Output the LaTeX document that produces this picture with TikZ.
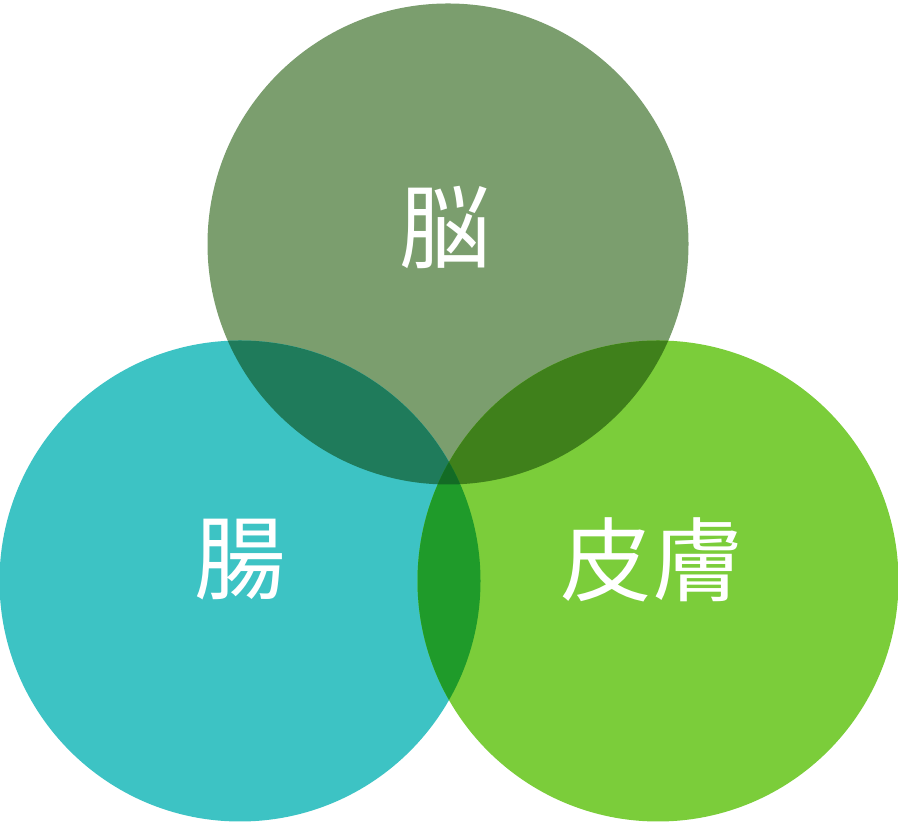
\documentclass[tikz,border=0pt]{standalone}
\usepackage{fontspec}
\newfontfamily\cjk{Noto Sans CJK JP}
\definecolor{brain}{HTML}{7B9E6E}
\definecolor{gut}{HTML}{3DC3C4}
\definecolor{skin}{HTML}{7BCD3A}
\definecolor{braingut}{HTML}{1F7B5B}
\definecolor{brainskin}{HTML}{3F801B}
\definecolor{gutskin}{HTML}{1F9B2A}
\definecolor{allthree}{HTML}{136B25}
\usetikzlibrary{calc, positioning}

\begin{document}
\begin{tikzpicture}[lbl/.style = {text = white, font = \cjk\fontsize{26pt}{26pt}\selectfont, inner sep = 0pt}]
\useasboundingbox (0,0) rectangle (8.98,8.26);
\coordinate (B) at (4.48,5.82);
\coordinate (G) at (2.40,2.45);
\coordinate (S) at (6.58,2.45);
\def\rad{2.405}
\fill[brain] (B) circle (\rad);
\fill[gut] (G) circle (\rad);
\fill[skin] (S) circle (\rad);
\begin{scope}
\clip (B) circle (\rad);
\fill[braingut] (G) circle (\rad);
\fill[brainskin] (S) circle (\rad);
\end{scope}
\begin{scope}
\clip (G) circle (\rad);
\fill[gutskin] (S) circle (\rad);
\clip (S) circle (\rad);
\fill[allthree] (B) circle (\rad);
\end{scope}
\node[lbl] (brainlbl) at (4.45,5.98) {脳};
\node[lbl] (gutlbl) at (2.40,2.66) {腸};
\node[lbl] (skinlbl) at (6.52,2.66) {皮膚};
\end{tikzpicture}
\end{document}
